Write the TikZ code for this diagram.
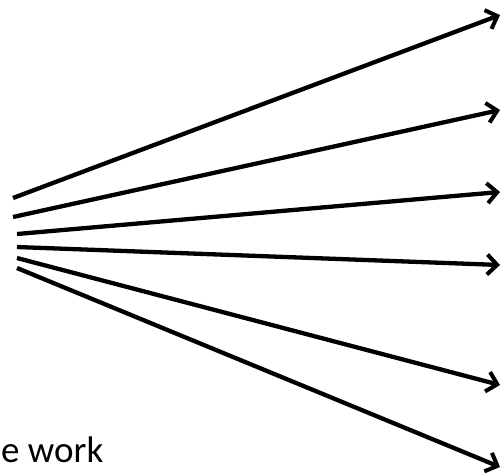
\documentclass[tikz,border=0pt]{standalone}
\usepackage{fontspec}
\setmainfont{Carlito}
\usetikzlibrary{arrows.meta}

\begin{document}
\begin{tikzpicture}[
  x=1pt, y=-1pt,
  font=\fontsize{37}{40}\selectfont,
  >={Straight Barb[length=10pt,width=20pt,line width=4pt]},
  fan/.style={->, draw=black, line width=4.3pt}
]
\useasboundingbox (0,0) rectangle (502,475);

% Fan end points
\foreach \i/\sx/\sy/\ty in {1/13/198/15, 2/13/217/110, 3/17/234/192, 4/17/247/265, 5/17/258/385, 6/17/268/467}{
  \coordinate (s\i) at (\sx,\sy);
  \coordinate (t\i) at (500,\ty);
}

% Arrows
\foreach \i in {1,...,6}{
  \draw[fan] (s\i) -- (t\i);
}

% Caption
\node[anchor=base west, inner sep=0pt] (lbl) at (1,462) {e work};

\end{tikzpicture}
\end{document}
